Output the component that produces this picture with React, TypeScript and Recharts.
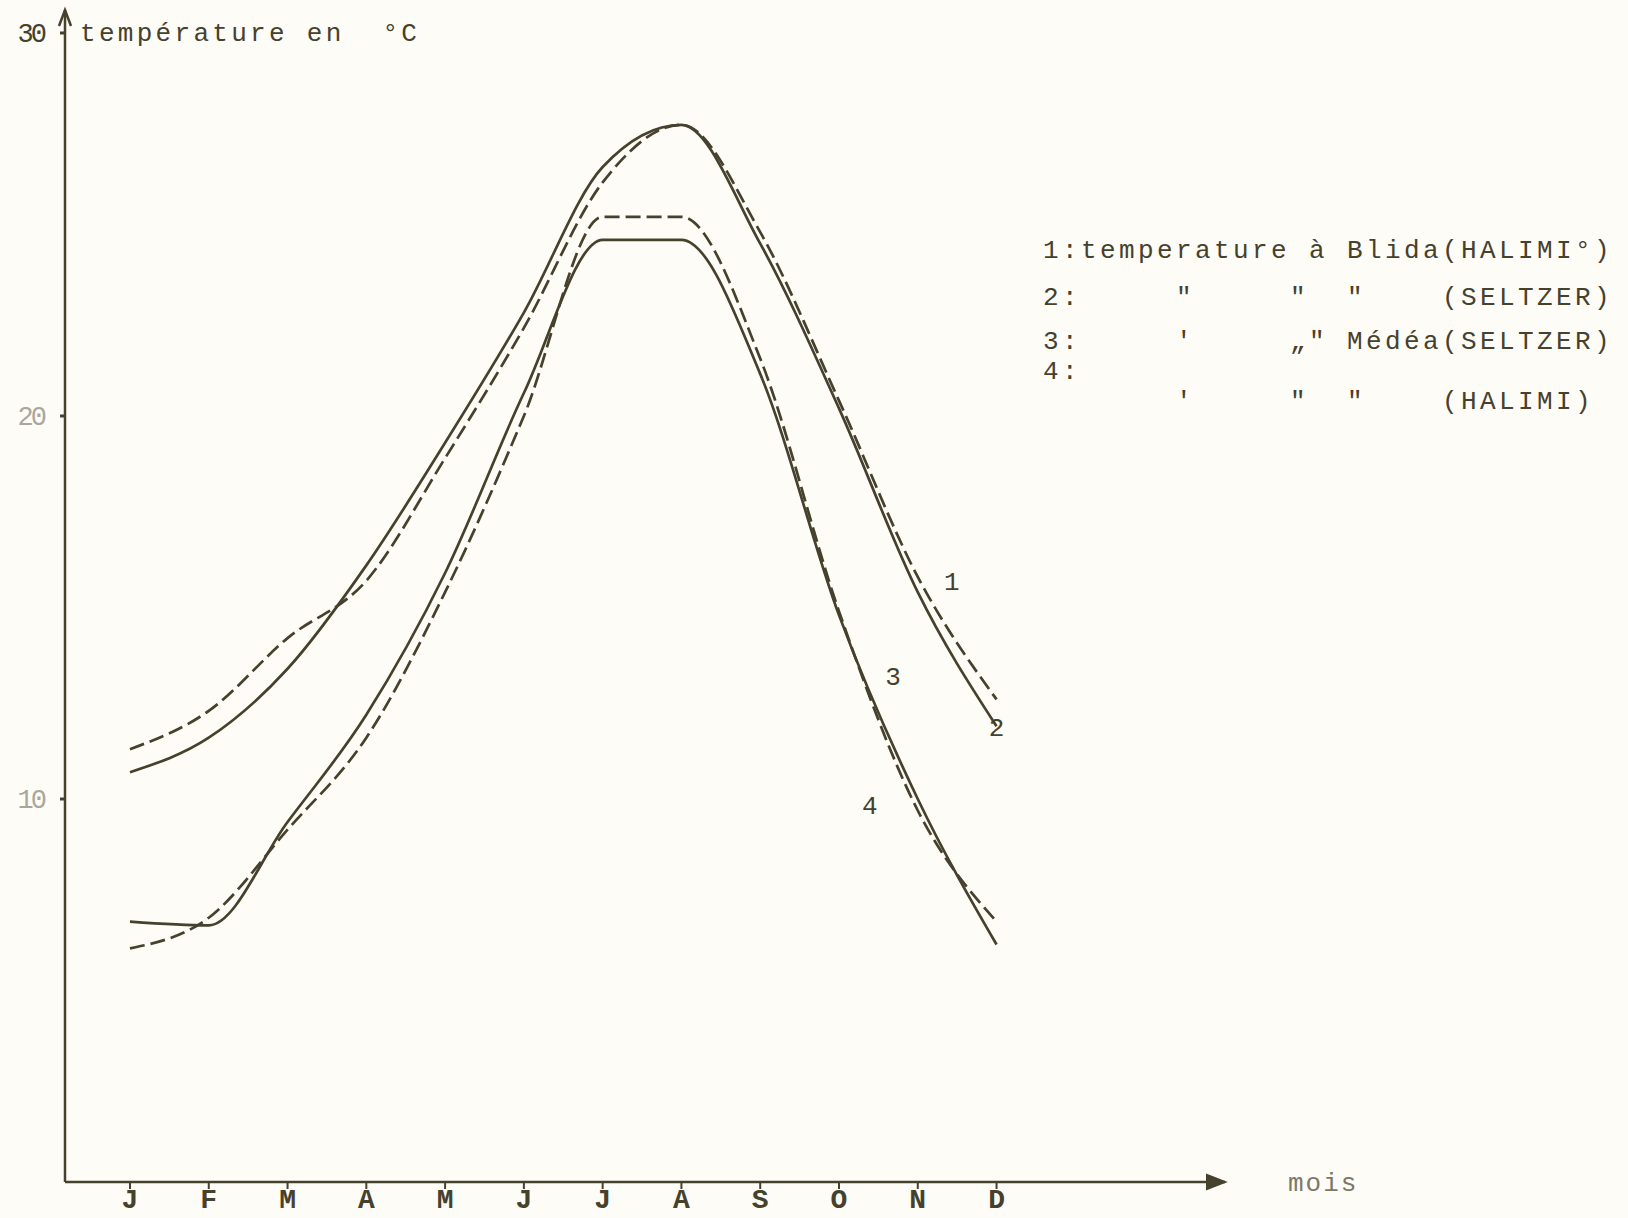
import { LineChart, Line, XAxis, YAxis, ReferenceDot } from "recharts"

// Mean monthly temperature (°C).
const MONTHS = ["J", "F", "M", "A", "M", "J", "J", "A", "S", "O", "N", "D"]
const BLIDA_HALIMI = [11.3, 12.3, 14.2, 15.7, 18.9, 22.3, 26.1, 27.6, 24.8, 20.4, 15.8, 12.6]
const BLIDA_SELTZER = [10.7, 11.6, 13.4, 16.1, 19.3, 22.7, 26.5, 27.6, 24.5, 20.2, 15.4, 11.9]
const MEDEA_SELTZER = [6.8, 6.7, 9.4, 12.2, 15.9, 20.6, 24.6, 24.6, 21.1, 14.8, 10.0, 6.2]
const MEDEA_HALIMI = [6.1, 6.9, 9.2, 11.6, 15.4, 20.0, 25.2, 25.2, 21.5, 14.9, 9.7, 6.8]
const Y_TICKS = [10, 20, 30]

const LEGEND_ROWS = [
  "1:temperature à Blida(HALIMI°)",
  '2:     "     "  "    (SELTZER)',
  "3:     '     „\" Médéa(SELTZER)",
  "4:",
  "       '     \"  \"    (HALIMI)",
]

const W = 1628
const H = 1218
const INK = "#46412d"
const MONO = "'Liberation Mono', 'DejaVu Sans Mono', monospace"
const X_MIN = 0.175
const X_MAX = 14.9
const Y_MAX = 30.6

const data = MONTHS.map((m, i) => ({
  m: i + 1,
  s1: BLIDA_HALIMI[i],
  s2: BLIDA_SELTZER[i],
  s3: MEDEA_SELTZER[i],
  s4: MEDEA_HALIMI[i],
}))

// curve number written next to one point of each curve
function curveTag(text: string, at: number, dx: number, dy: number) {
  return (p: any) =>
    p.index === at ? (
      <text x={p.x + dx} y={p.y + dy} fontSize={26} fontFamily={MONO} fill={INK} textAnchor="middle">
        {text}
      </text>
    ) : (
      <g />
    )
}

function MonthTick(p: any) {
  return (
    <text x={p.x} y={p.y + 18} textAnchor="middle" fontSize={28} fontWeight="bold" fontFamily={MONO} fill={INK}>
      {MONTHS[p.payload.value - 1]}
    </text>
  )
}

function TempTick(p: any) {
  const v = p.payload.value
  return (
    <text
      x={p.x}
      y={p.y + 9}
      textAnchor="end"
      fontSize={27}
      letterSpacing={-3}
      fontFamily={MONO}
      fill={INK}
      opacity={v === 30 ? 1 : 0.45}
    >
      {v}
    </text>
  )
}

const arrowRight = (p: any) => (
  <path d={`M${p.cx - 18},${p.cy - 7} L${p.cx},${p.cy} L${p.cx - 18},${p.cy + 7} Z`} fill={INK} stroke={INK} strokeWidth={2} />
)
const arrowUp = (p: any) => (
  <path d={`M${p.cx - 6},${p.cy + 16} L${p.cx},${p.cy} L${p.cx + 6},${p.cy + 16}`} fill="none" stroke={INK} strokeWidth={2.5} />
)

export default function App() {
  return (
    <div style={{ position: "absolute", left: 0, top: 0, width: W, height: H, background: "#fdfcf6" }}>
      <LineChart width={W} height={H} data={data} margin={{ top: 10, right: W - 1225, bottom: 0, left: 0 }}>
        <XAxis
          dataKey="m"
          type="number"
          domain={[X_MIN, X_MAX]}
          allowDataOverflow
          ticks={data.map((d) => d.m)}
          interval={0}
          height={36}
          tickSize={7}
          tickMargin={1}
          axisLine={{ stroke: INK, strokeWidth: 2.5 }}
          tickLine={{ stroke: INK, strokeWidth: 2 }}
          tick={<MonthTick />}
        />
        <YAxis
          type="number"
          domain={[0, Y_MAX]}
          allowDataOverflow
          ticks={Y_TICKS}
          interval={0}
          width={65}
          tickSize={5}
          tickMargin={16}
          axisLine={{ stroke: INK, strokeWidth: 2.5 }}
          tickLine={{ stroke: INK, strokeWidth: 3 }}
          tick={<TempTick />}
        />
        <Line
          type="monotone"
          dataKey="s1"
          stroke={INK}
          strokeWidth={2.7}
          strokeDasharray="15 6"
          dot={false}
          isAnimationActive={false}
          label={curveTag("1", 10, 34, 13)}
        />
        <Line
          type="monotone"
          dataKey="s2"
          stroke={INK}
          strokeWidth={2.7}
          dot={false}
          isAnimationActive={false}
          label={curveTag("2", 11, 0, 10)}
        />
        <Line
          type="monotone"
          dataKey="s3"
          stroke={INK}
          strokeWidth={2.7}
          dot={false}
          isAnimationActive={false}
          label={curveTag("3", 9, 54, 70)}
        />
        <Line
          type="monotone"
          dataKey="s4"
          stroke={INK}
          strokeWidth={2.7}
          strokeDasharray="15 6"
          dot={false}
          isAnimationActive={false}
          label={curveTag("4", 10, -48, 4)}
        />
        <ReferenceDot x={X_MAX} y={0} r={0} ifOverflow="visible" shape={arrowRight} />
        <ReferenceDot x={X_MIN} y={Y_MAX} r={0} ifOverflow="visible" shape={arrowUp} />
      </LineChart>
      <svg width={W} height={H} style={{ position: "absolute", left: 0, top: 0, pointerEvents: "none" }}>
        <text x={80} y={41} fontSize={26} letterSpacing={3.3} fontFamily={MONO} fill={INK} style={{ whiteSpace: "pre" }}>
          {"température en  °C"}
        </text>
        <text x={1288} y={1191} fontSize={26} letterSpacing={2} fontFamily={MONO} fill={INK} opacity={0.7}>
          mois
        </text>
        {LEGEND_ROWS.map((row, i) => (
          <text
            key={i}
            x={1043}
            y={[258, 305, 349, 379, 409][i]}
            fontSize={26}
            letterSpacing={3.4}
            fontFamily={MONO}
            fill={INK}
            style={{ whiteSpace: "pre" }}
          >
            {row}
          </text>
        ))}
      </svg>
    </div>
  )
}
